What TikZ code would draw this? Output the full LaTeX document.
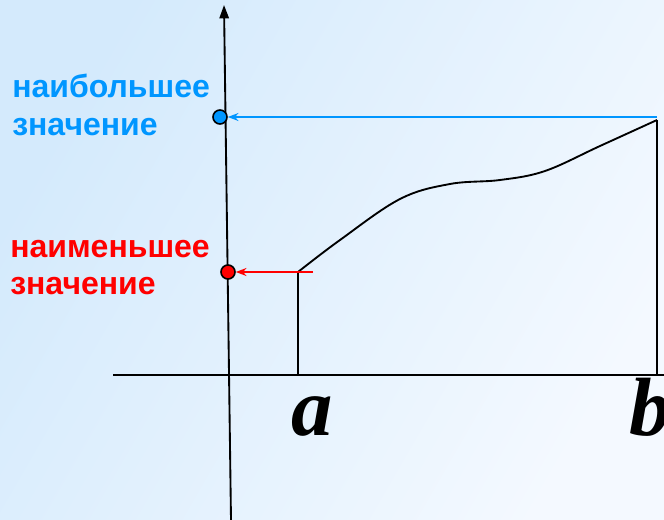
\documentclass[tikz,border=0pt]{standalone}
\usepackage{fontspec}
\setmainfont{Liberation Serif}
\newfontfamily\labelfont{Liberation Sans}
\definecolor{maxblue}{RGB}{0, 150, 255}
\definecolor{minred}{RGB}{255, 0, 0}
\definecolor{bgblue}{RGB}{212, 234, 252}
\definecolor{bgwhite}{RGB}{244, 249, 255}
\usetikzlibrary{arrows.meta, positioning}

\begin{document}
\begin{tikzpicture}[x=0.75pt, y=-0.75pt,
  dot/.style={circle, draw=black, line width=1.2pt, inner sep=0pt, minimum size=10.5pt},
  valtext/.style={anchor=north west, align=left, inner sep=0pt, font=\labelfont\bfseries\fontsize{24}{28}\selectfont},
  endlabel/.style={anchor=base, inner sep=0pt, font=\bfseries\itshape\fontsize{62}{62}\selectfont}]
  % background
  \shade[left color=bgblue, right color=bgwhite, shading angle=60] (0,0) rectangle (664,520);
  \useasboundingbox (0,0) rectangle (664,520);

  % axes
  \coordinate (ytop) at (224,5);
  \coordinate (ybot) at (231,520);
  \coordinate (xleft) at (113,375);
  \coordinate (xright) at (664,375);
  \draw[line width=1.4pt] (xleft) -- (xright);
  \draw[line width=1.4pt, -{Triangle[length=10pt, width=7pt]}] (ybot) -- (ytop);

  % graph on [a,b]
  \coordinate (fa) at (298,272);
  \coordinate (fb) at (657,120);
  \draw[line width=1.4pt] (298,375) -- (fa);
  \draw[line width=1.4pt] (657,375) -- (fb);
  \draw[line width=1.4pt] plot[smooth, tension=0.6] coordinates {(fa) (340,240) (400,199) (450,184) (500,180) (545,171) (600,146) (fb)};

  % extreme values
  \node[dot, fill=maxblue] (maxdot) at (220,117) {};
  \node[dot, fill=minred] (mindot) at (228,272) {};
  \coordinate (maxstart) at (657,117);
  \coordinate (minstart) at (313,272);
  \draw[maxblue, line width=1.4pt, -{Stealth[length=8pt, width=6pt]}] (maxstart) -- (maxdot);
  \draw[minred, line width=1.4pt, -{Stealth[length=8pt, width=6pt]}] (minstart) -- (mindot);

  \node[valtext, text=maxblue] (maxlabel) at (12,74) {наибольшее\\значение};
  \node[valtext, text=minred] (minlabel) at (10,240) {наименьшее\\значение};

  \node[endlabel] (alabel) at (312,435) {a};
  \node[endlabel] (blabel) at (650,435) {b};
\end{tikzpicture}
\end{document}
